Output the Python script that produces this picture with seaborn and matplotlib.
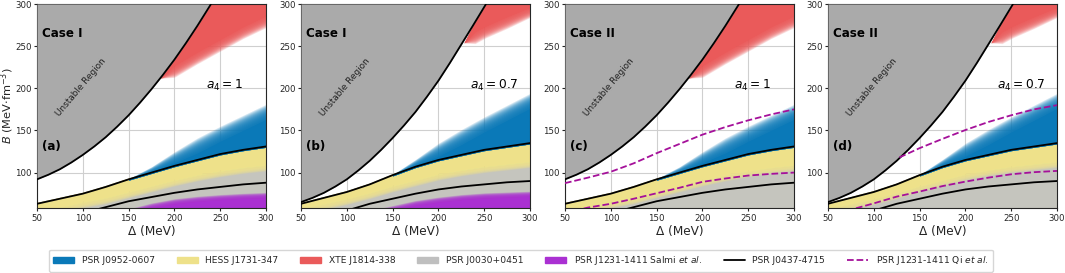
import numpy as np
import seaborn as sns
import matplotlib.pyplot as plt
from matplotlib.patches import Patch
from matplotlib.lines import Line2D

# Δ grid (MeV) shared by most curves
DELTA = [50, 75, 100, 125, 150, 175, 200, 225, 250, 275, 300]

# boundary of the unstable region, B (MeV fm^-3)
UNST_X_A1 = [50, 62.5, 75, 87.5, 100, 112.5, 125, 137.5, 150, 162.5, 175,
             187.5, 200, 212.5, 225, 240]
UNST_B_A1 = [92, 97.5, 104, 112, 121, 131, 142, 154.5, 168, 183, 199,
             216, 234, 253.5, 274, 300]
UNST_X_A07 = [50, 62.5, 75, 87.5, 100, 112.5, 125, 137.5, 150, 162.5, 175,
              187.5, 200, 212.5, 225, 237.5, 252]
UNST_B_A07 = [65, 70, 76, 83.5, 92, 102.5, 114, 127, 141, 156, 172,
              190, 209, 230, 252, 274, 300]

# PSR J0437-4715 (two black lines, on DELTA)
J0437_UP_A1 = [63, 69, 75, 83, 92, 100, 108, 115, 122, 127, 131]
J0437_LO_A1 = [40, 46, 52, 59, 66, 71, 76, 80, 83, 86, 88]
J0437_UP_A07 = [63, 70, 77, 86, 97, 107, 115, 121, 127, 131, 135]
J0437_LO_A07 = [42, 48, 55, 63, 69, 75, 80, 83.5, 86, 88.5, 90]

# HESS J1731-347 lower edge (= PSR J0030+0451 upper edge), on DELTA
HESS_LO_A1 = [52, 56, 62, 67, 74, 81, 88, 94, 99, 103, 106]
HESS_LO_A07 = [55, 60, 66, 73, 81, 88, 95, 100, 104, 107, 110]

# PSR J0952-0607 upper edge
J0952_X = [150, 175, 200, 225, 250, 275, 300]
J0952_TOP_A1 = [92, 104, 118, 132, 146, 159, 172]
J0952_TOP_A07 = [97, 112, 127, 142, 157, 171, 185]

# XTE J1814-338
XTE_X_A1 = [185, 200, 225, 240, 250, 275, 300]
XTE_LO_A1 = [212, 220, 236, 245, 251, 266, 279]
XTE_HI_A1 = [212, 234, 274, 300, 300, 300, 300]
XTE_X_A07 = [228, 240, 252, 275, 300]
XTE_LO_A07 = [254, 260, 267, 278, 290]
XTE_HI_A07 = [254, 279, 300, 300, 300]

# PSR J1231-1411 Salmi et al. upper edge
SALMI_X = [125, 150, 175, 200, 225, 250, 275, 300]
SALMI_TOP_A1 = [48, 54, 61, 66, 69, 71, 72.5, 73.5]
SALMI_TOP_A07 = [52, 58, 64, 68, 71, 73, 74, 75]

# PSR J1231-1411 Qi et al. (dashed)
QI_UP_C = [87.5, 94, 101, 111, 123, 134, 145, 154, 162, 169, 175]
QI_LO_C = [52, 58.5, 63, 69, 75.5, 82, 89, 93, 96.5, 98.5, 100]
QI_UP_X_D = [128, 150, 175, 200, 225, 250, 275, 300]
QI_UP_D = [118, 129, 140, 150.5, 160, 168, 175, 180]
QI_LO_D = [50, 56, 63.5, 71.5, 77.5, 84, 89.3, 94, 98, 100.5, 102]

C_BLUE = '#0a79b8'
C_YELLOW = '#eee18a'
C_RED = '#ea5a5a'
C_GRAY = '#c5c5be'
C_PURPLE = '#aa30d2'
C_UNST = '#aaaaaa'
C_QI = '#a5109a'

sns.set_style('ticks')
plt.rcParams['font.family'] = ['DejaVu Sans']


def soft_band(ax, x, lo, hi, color, fuzz=5, side='top', n=16, a=0.18):
    # band with a blurred edge on one side (stacked translucent layers)
    x = np.asarray(x, float)
    lo = np.asarray(lo, float)
    hi = np.asarray(hi, float)
    f = np.minimum(fuzz, 0.6 * np.maximum(hi - lo, 0))
    if side == 'top':
        ax.fill_between(x, lo, np.maximum(lo, hi - f), color=color, lw=0)
        for i in range(1, n + 1):
            edge = hi - f + 2 * f * i / n
            ax.fill_between(x, lo, np.maximum(lo, edge), color=color, alpha=a, lw=0)
    else:
        ax.fill_between(x, np.minimum(hi, lo + f), hi, color=color, lw=0)
        for i in range(1, n + 1):
            edge = lo + f - 2 * f * i / n
            ax.fill_between(x, np.minimum(hi, edge), hi, color=color, alpha=a, lw=0)


panels = [
    dict(case='Case I', tag='(a)', a4='1', ux=UNST_X_A1, ub=UNST_B_A1,
         up=J0437_UP_A1, lo=J0437_LO_A1, hess=HESS_LO_A1, blue=J0952_TOP_A1,
         rx=XTE_X_A1, rlo=XTE_LO_A1, rhi=XTE_HI_A1, salmi=SALMI_TOP_A1, qi=None),
    dict(case='Case I', tag='(b)', a4='0.7', ux=UNST_X_A07, ub=UNST_B_A07,
         up=J0437_UP_A07, lo=J0437_LO_A07, hess=HESS_LO_A07, blue=J0952_TOP_A07,
         rx=XTE_X_A07, rlo=XTE_LO_A07, rhi=XTE_HI_A07, salmi=SALMI_TOP_A07, qi=None),
    dict(case='Case II', tag='(c)', a4='1', ux=UNST_X_A1, ub=UNST_B_A1,
         up=J0437_UP_A1, lo=J0437_LO_A1, hess=HESS_LO_A1, blue=J0952_TOP_A1,
         rx=XTE_X_A1, rlo=XTE_LO_A1, rhi=XTE_HI_A1, salmi=None,
         qi=(DELTA, QI_UP_C, QI_LO_C)),
    dict(case='Case II', tag='(d)', a4='0.7', ux=UNST_X_A07, ub=UNST_B_A07,
         up=J0437_UP_A07, lo=J0437_LO_A07, hess=HESS_LO_A07, blue=J0952_TOP_A07,
         rx=XTE_X_A07, rlo=XTE_LO_A07, rhi=XTE_HI_A07, salmi=None,
         qi=(QI_UP_X_D, QI_UP_D, QI_LO_D)),
]

fig = plt.figure(figsize=(10.65, 2.73), dpi=100)
lefts = [37, 301, 565, 828]

for p, left in zip(panels, lefts):
    ax = fig.add_axes([left / 1065, 65 / 273, 229 / 1065, 204 / 273])
    ax.set_axisbelow(True)
    ax.grid(True, color='#cfcfcf', lw=0.8)

    # J0030 gray band, then HESS yellow
    soft_band(ax, DELTA, [30] * len(DELTA), p['hess'], C_GRAY, fuzz=4, side='top')
    soft_band(ax, DELTA, p['hess'], np.asarray(p['up']) + 1.5, C_YELLOW, fuzz=4, side='bottom')
    # J0952 blue
    base = np.asarray(p['up'][4:]) - 1
    soft_band(ax, J0952_X, base, p['blue'], C_BLUE, fuzz=9, side='top')
    # XTE red
    soft_band(ax, p['rx'], p['rlo'], p['rhi'], C_RED, fuzz=7, side='bottom')
    # Salmi purple
    if p['salmi'] is not None:
        soft_band(ax, SALMI_X, [30] * len(SALMI_X), p['salmi'], C_PURPLE, fuzz=3, side='top')

    # unstable region
    ax.fill_between(p['ux'], p['ub'], 300, color=C_UNST, lw=0, zorder=3)
    sns.lineplot(x=p['ux'], y=p['ub'], color='black', lw=1.3, ax=ax, zorder=4)

    # J0437 lines
    sns.lineplot(x=DELTA, y=p['up'], color='black', lw=1.3, ax=ax, zorder=4)
    sns.lineplot(x=DELTA, y=p['lo'], color='black', lw=1.3, ax=ax, zorder=4)

    if p['qi'] is not None:
        sns.lineplot(x=p['qi'][0], y=p['qi'][1], color=C_QI, lw=1.3, ls='--', ax=ax, zorder=4)
        sns.lineplot(x=DELTA, y=p['qi'][2], color=C_QI, lw=1.3, ls='--', ax=ax, zorder=4)

    ax.set_xlim(50, 300)
    ax.set_ylim(58, 300)
    ax.set_xticks([50, 100, 150, 200, 250, 300])
    ax.set_yticks([100, 150, 200, 250, 300])
    ax.tick_params(labelsize=6.2, length=2.5, width=0.8, pad=1.5)
    for s in ax.spines.values():
        s.set_linewidth(0.8)
    ax.set_xlabel('Δ (MeV)', fontsize=8.7, labelpad=1.5)
    if p['tag'] == '(a)':
        ax.set_ylabel(r'$B$ (MeV$\cdot$fm$^{-3}$)', fontsize=8.2)
        ax.yaxis.set_label_coords(-0.092, 0.5)
    else:
        ax.set_ylabel('')

    ax.text(0.022, 0.855, p['case'], transform=ax.transAxes, fontsize=8.6,
            fontweight='bold', va='center', color='black', zorder=6)
    ax.text(0.022, 0.30, p['tag'], transform=ax.transAxes, fontsize=8.6,
            fontweight='bold', va='center', color='black', zorder=6)
    ax.text(0.74, 0.60, r'$a_4 = %s$' % p['a4'], transform=ax.transAxes,
            fontsize=8.8, va='center', color='black', zorder=6)
    ax.text(0.19, 0.59, 'Unstable Region', transform=ax.transAxes, fontsize=6.4,
            rotation=50, ha='center', va='center', color='#222222', zorder=6)

handles = [
    Patch(color=C_BLUE, label='PSR J0952-0607'),
    Patch(color=C_YELLOW, label='HESS J1731-347'),
    Patch(color=C_RED, label='XTE J1814-338'),
    Patch(color='#bfbfbf', label='PSR J0030+0451'),
    Patch(color=C_PURPLE, label=r'PSR J1231-1411 Salmi $\it{et\ al.}$'),
    Line2D([], [], color='black', lw=1.3, label='PSR J0437-4715'),
    Line2D([], [], color=C_QI, lw=1.3, ls='--', label=r'PSR J1231-1411 Qi $\it{et\ al.}$'),
]
fig.legend(handles=handles, loc='center', bbox_to_anchor=(0.489, 0.045), ncol=7,
           fontsize=6.6, frameon=True, handlelength=2.3, columnspacing=2.4,
           borderpad=0.5, handletextpad=0.8, edgecolor='#cccccc')

fig.savefig('out.png', dpi=100)
